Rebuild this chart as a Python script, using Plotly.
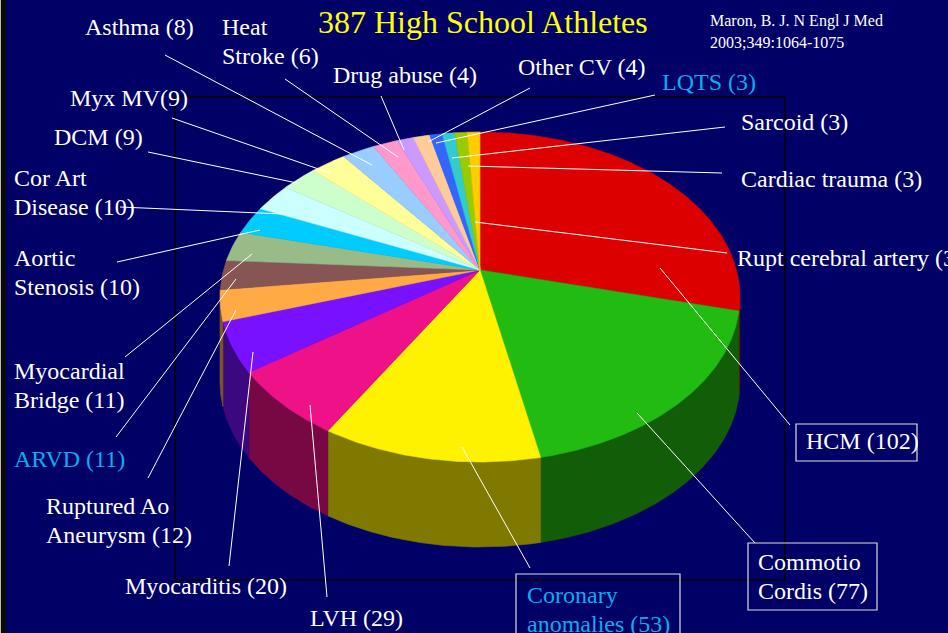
import numpy as np
import plotly.graph_objects as go

# ---------------- data (clockwise from 12 o'clock) ----------------
causes = ["HCM", "Commotio Cordis", "Coronary anomalies", "LVH", "Myocarditis",
          "Ruptured Ao Aneurysm", "ARVD", "Myocardial Bridge", "Aortic Stenosis",
          "Cor Art Disease", "DCM", "Myx MV", "Asthma", "Heat Stroke", "Drug abuse",
          "Other CV", "LQTS", "Sarcoid", "Cardiac trauma", "Rupt cerebral artery"]
counts = [102, 77, 53, 29, 20, 12, 11, 11, 10, 10, 9, 9, 8, 6, 4, 4, 3, 3, 3, 3]
colors = ["#DD0000", "#22BB11", "#FFF200", "#EE1188", "#7711FF", "#FFAA44",
          "#885555", "#99BB88", "#00CCFF", "#CCFFFF", "#CCFFCC", "#FFFF99",
          "#99CCFF", "#FF99CC", "#CC99FF", "#FFCC99", "#3366FF", "#33CCCC",
          "#99CC00", "#FFCC00"]
label_lines = [["HCM (102)"], ["Commotio", "Cordis (77)"], ["Coronary", "anomalies (53)"],
               ["LVH (29)"], ["Myocarditis (20)"], ["Ruptured Ao", "Aneurysm (12)"],
               ["ARVD (11)"], ["Myocardial", "Bridge (11)"], ["Aortic", "Stenosis (10)"],
               ["Cor Art", "Disease (10)"], ["DCM (9)"], ["Myx MV(9)"], ["Asthma (8)"],
               ["Heat", "Stroke (6)"], ["Drug abuse (4)"], ["Other CV (4)"], ["LQTS (3)"],
               ["Sarcoid (3)"], ["Cardiac trauma (3)"], ["Rupt cerebral artery (3)"]]
title_text = "387 High School Athletes"
citation = ["Maron, B. J. N Engl J Med", "2003;349:1064-1075"]

# ---------------- layout / style ----------------
BG = "#000066"
CYAN = "#0AAEEF"
FONT = "Liberation Serif, Times New Roman, serif"
W, H = 948, 633
cx, cy, a, b = 480, 297, 260, 165      # top-face ellipse (pixels)
apex = (480, 270)
depth = 85
LS = 29                                 # label line spacing
DX = -2                                 # annotation padding compensation

# label left x, first-line center y
label_pos = [(806, 441), (758, 562), (527, 595), (310, 618), (125, 586),
             (46, 506), (14, 459), (14, 371), (14, 258), (14, 178),
             (54, 137), (70, 98), (85, 27), (222, 27), (333, 75),
             (518, 67), (662, 82), (741, 122), (741, 179), (737, 258)]
label_color = ["white", "white", CYAN, "white", "white", "white", CYAN, "white",
               "white", "white", "white", "white", "white", "white", "white",
               "white", CYAN, "white", "white", "white"]
leaders = [((790, 425), (660, 268)), ((755, 543), (637, 413)), ((530, 568), (462, 447)),
           ((327, 597), (310, 405)), ((229, 566), (253, 352)), ((148, 478), (236, 310)),
           ((116, 437), (236, 279)), ((125, 357), (252, 254)), ((117, 262), (260, 230)),
           ((120, 207), (283, 214)), ((148, 152), (297, 183)), ((172, 118), (330, 173)),
           ((165, 55), (372, 165)), ((285, 79), (398, 157)), ((381, 96), (404, 150)),
           ((530, 88), (428, 142)), ((655, 95), (436, 143)), ((725, 127), (452, 158)),
           ((722, 173), (468, 166)), ((727, 253), (475, 222))]
boxes = {0: (796, 424, 917, 461), 1: (748, 543, 877, 610), 2: (516, 574, 680, 645)}


def darker(hexc, f=0.5):
    hexc = hexc.lstrip("#")
    r, g, bb = (int(hexc[i:i + 2], 16) for i in (0, 2, 4))
    return "rgb(%d,%d,%d)" % (r * f, g * f, bb * f)


def arc(p0, p1, dy=0.0):
    phis = np.radians(np.linspace(p0, p1, max(3, int(abs(p1 - p0) * 2) + 2)))
    return cx + a * np.sin(phis), cy - b * np.cos(phis) + dy


total = sum(counts)
cum = np.concatenate([[0], np.cumsum(counts)]) / total * 360.0

fig = go.Figure()

# side walls (front half only)
for i in range(len(counts)):
    lo, hi = max(cum[i], 90), min(cum[i + 1], 270)
    if hi <= lo:
        continue
    xt, yt = arc(lo, hi)
    xb, yb = arc(hi, lo, depth)
    sc = darker(colors[i])
    fig.add_trace(go.Scatter(x=np.concatenate([xt, xb, xt[:1]]),
                             y=np.concatenate([yt, yb, yt[:1]]),
                             mode="lines", fill="toself", fillcolor=sc,
                             line=dict(color=sc, width=0.6),
                             hoverinfo="skip", showlegend=False))

# top faces
for i in range(len(counts)):
    xt, yt = arc(cum[i], cum[i + 1])
    fig.add_trace(go.Scatter(x=np.concatenate([[apex[0]], xt, [apex[0]]]),
                             y=np.concatenate([[apex[1]], yt, [apex[1]]]),
                             mode="lines", fill="toself", fillcolor=colors[i],
                             line=dict(color=colors[i], width=0.6),
                             name=causes[i], text=f"{causes[i]}: {counts[i]}",
                             hoverinfo="text", showlegend=False))

shapes = [
    dict(type="rect", x0=175, y0=97, x1=785, y1=580, xref="x", yref="y",
         line=dict(color="black", width=1.5), layer="below"),
    dict(type="rect", x0=0, y0=0, x1=6, y1=H, xref="x", yref="y",
         fillcolor="#0a0a0a", line=dict(width=0), layer="above"),
    dict(type="line", x0=0.5, y0=0, x1=0.5, y1=H, xref="x", yref="y",
         line=dict(color="#bbbbbb", width=1)),
]
for (p, q) in leaders:
    shapes.append(dict(type="line", x0=p[0], y0=p[1], x1=q[0], y1=q[1],
                       xref="x", yref="y", line=dict(color="white", width=1)))
for k, (x0, y0, x1, y1) in boxes.items():
    shapes.append(dict(type="rect", x0=x0, y0=y0, x1=x1, y1=y1, xref="x", yref="y",
                       line=dict(color="#dddddd", width=1.2)))

annotations = []
for i, lines in enumerate(label_lines):
    lx, ly = label_pos[i]
    for j, t in enumerate(lines):
        annotations.append(dict(x=lx + DX, y=ly + j * LS, xref="x", yref="y", text=t,
                                showarrow=False, xanchor="left", yanchor="middle",
                                font=dict(family=FONT, size=24, color=label_color[i])))
annotations.append(dict(x=483, y=22, xref="x", yref="y", text=title_text, showarrow=False,
                        xanchor="center", yanchor="middle",
                        font=dict(family=FONT, size=32, color="#FFFF00")))
for j, t in enumerate(citation):
    annotations.append(dict(x=710 + DX, y=21 + j * 21, xref="x", yref="y", text=t,
                            showarrow=False, xanchor="left", yanchor="middle",
                            font=dict(family=FONT, size=16, color="white")))

fig.update_layout(
    width=W, height=H, autosize=False,
    margin=dict(l=0, r=0, t=0, b=0, pad=0),
    paper_bgcolor=BG, plot_bgcolor=BG,
    xaxis=dict(range=[0, W], visible=False, fixedrange=True),
    yaxis=dict(range=[H, 0], visible=False, fixedrange=True),
    shapes=shapes, annotations=annotations, showlegend=False,
)
fig.write_html("out.html")
